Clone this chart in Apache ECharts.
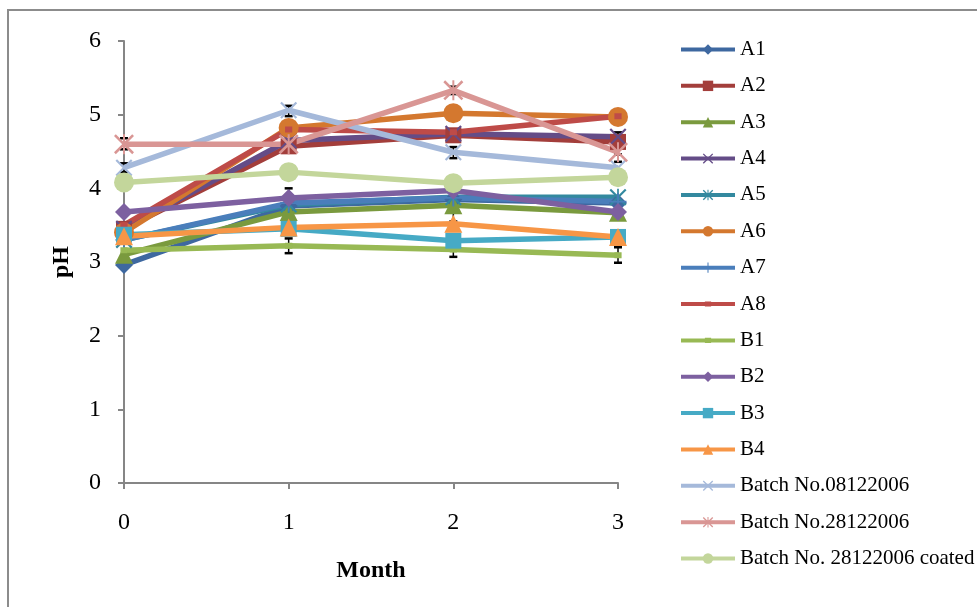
<!DOCTYPE html>
<html>
<head>
<meta charset="utf-8">
<script src="https://cdn.jsdelivr.net/npm/echarts@6/dist/echarts.min.js"></script>
<style>
html,body{margin:0;padding:0;background:#fff;}
#chart{width:977px;height:607px;}
</style>
</head>
<body>
<div id="chart"></div>
<script>
var months = [0, 1, 2, 3];
var yTicks = [0, 1, 2, 3, 4, 5, 6];
var seriesNames = ['A1','A2','A3','A4','A5','A6','A7','A8','B1','B2','B3','B4','Batch No.08122006','Batch No.28122006','Batch No. 28122006 coated'];

var A1 = [2.96, 3.76, 3.85, 3.80];
var A2 = [3.45, 4.57, 4.72, 4.63];
var A3 = [3.10, 3.68, 3.77, 3.67];
var A4 = [3.45, 4.65, 4.74, 4.70];
var A5 = [3.30, 3.78, 3.88, 3.88];
var A6 = [3.40, 4.82, 5.02, 4.97];
var A7 = [3.30, 3.80, 3.87, 3.82];
var A8 = [3.50, 4.80, 4.76, 4.98];
var B1 = [3.16, 3.22, 3.17, 3.09];
var B2 = [3.68, 3.87, 3.97, 3.68];
var B3 = [3.37, 3.45, 3.29, 3.34];
var B4 = [3.35, 3.47, 3.52, 3.34];
var Batch08 = [4.28, 5.06, 4.49, 4.28];
var Batch28 = [4.60, 4.60, 5.33, 4.49];
var Coated = [4.08, 4.22, 4.07, 4.15];

var errX    = [0,    0,    0,    1,    1,    1,    2,    2,    2,    2,    2,    3,    3,    3,    3];
var errLow  = [4.53, 4.22, 3.08, 4.98, 3.75, 3.12, 5.28, 4.41, 3.97, 3.55, 3.07, 4.62, 4.36, 3.60, 2.99];
var errHigh = [4.68, 4.34, 3.25, 5.12, 4.00, 3.32, 5.38, 4.56, 4.06, 3.80, 3.25, 4.76, 4.46, 3.75, 3.20];

var seriesValues = [A1,A2,A3,A4,A5,A6,A7,A8,B1,B2,B3,B4,Batch08,Batch28,Coated];
var colors = ['#3E68A0','#A33E3B','#7A9A3E','#644C87','#33899F','#D4782F','#4A7EBB','#BE4B48','#98B954','#7D60A0','#46AAC5','#F79646','#A5B9DA','#D99694','#C3D69B'];

var xPath = 'path://M0,1.8 L1.8,0 L20,18.2 L18.2,20 Z M18.2,0 L20,1.8 L1.8,20 L0,18.2 Z';
var starPath = 'path://M0,1.8 L1.8,0 L20,18.2 L18.2,20 Z M18.2,0 L20,1.8 L1.8,20 L0,18.2 Z M9,0 L11,0 L11,20 L9,20 Z';
var plusPath = 'path://M9,0 L11,0 L11,20 L9,20 Z M0,9 L20,9 L20,11 L0,11 Z';
var dashPath = 'path://M0,0 L0.01,0 M10,10 L10,9.99 M2,2.5 L8,2.5 L8,7.5 L2,7.5 Z';
var symbols = ['diamond','rect','triangle',xPath,starPath,'circle',plusPath,dashPath,dashPath,'diamond','rect','triangle',xPath,starPath,'circle'];
var sizes = [18,16,18,17,17,20,17,12,12,18,16,18,17,20,20];

var series = seriesNames.map(function(name, i){
  return {
    name: name,
    type: 'line',
    data: months.map(function(m, j){ return [m, seriesValues[i][j]]; }),
    symbol: symbols[i],
    symbolSize: sizes[i],
    showAllSymbol: true,
    lineStyle: {width: 5.5, color: colors[i]},
    itemStyle: {color: colors[i]},
    emphasis: {disabled: true},
    animation: false
  };
});

series.push({
  type: 'custom',
  name: 'err',
  data: errX.map(function(x, i){ return [x, errLow[i], errHigh[i]]; }),
  renderItem: function(params, api){
    var lo = api.coord([api.value(0), api.value(1)]);
    var hi = api.coord([api.value(0), api.value(2)]);
    var w = 4;
    return {
      type: 'group',
      children: [
        {type:'line', shape:{x1:lo[0],y1:lo[1],x2:hi[0],y2:hi[1]}, style:{stroke:'#000',lineWidth:1.5}},
        {type:'line', shape:{x1:lo[0]-w,y1:lo[1],x2:lo[0]+w,y2:lo[1]}, style:{stroke:'#000',lineWidth:2.5}},
        {type:'line', shape:{x1:hi[0]-w,y1:hi[1],x2:hi[0]+w,y2:hi[1]}, style:{stroke:'#000',lineWidth:2.5}}
      ]
    };
  },
  z: 1,
  animation: false
});

var chart = echarts.init(document.getElementById('chart'));
chart.setOption({
  backgroundColor: '#fff',
  animation: false,
  textStyle: {fontFamily: 'Liberation Serif'},
  graphic: [{
    type: 'rect',
    shape: {x: 8, y: 10, width: 1000, height: 620},
    style: {fill: 'none', stroke: '#8c8c8c', lineWidth: 2},
    silent: true
  }],
  grid: {left: 124, right: 359, top: 41, bottom: 124},
  xAxis: {
    type: 'value',
    min: 0, max: 3, interval: 1,
    name: 'Month',
    nameLocation: 'middle',
    nameGap: 76,
    nameTextStyle: {fontFamily: 'Liberation Serif', fontSize: 24, fontWeight: 'bold', color: '#000'},
    axisLine: {show: true, lineStyle: {color: '#868686', width: 2}},
    axisTick: {show: true, length: 6, lineStyle: {color: '#868686', width: 2}},
    axisLabel: {fontFamily: 'Liberation Serif', fontSize: 24, color: '#000', margin: 28},
    splitLine: {show: false}
  },
  yAxis: {
    type: 'value',
    min: 0, max: 6, interval: 1,
    name: 'pH',
    nameLocation: 'middle',
    nameGap: 50,
    nameRotate: 90,
    nameTextStyle: {fontFamily: 'Liberation Serif', fontSize: 24, fontWeight: 'bold', color: '#000'},
    axisLine: {show: true, lineStyle: {color: '#868686', width: 2}},
    axisTick: {show: true, length: 6, lineStyle: {color: '#868686', width: 2}},
    axisLabel: {fontFamily: 'Liberation Serif', fontSize: 24, color: '#000', margin: 23,
      formatter: function(v){ return yTicks.indexOf(v) >= 0 ? String(v) : ''; }},
    splitLine: {show: false}
  },
  legend: {
    orient: 'vertical',
    left: 679,
    top: 39,
    padding: 0,
    data: seriesNames,
    itemWidth: 54,
    itemHeight: 13,
    itemGap: 15.36,
    lineStyle: {width: 4},
    textStyle: {fontFamily: 'Liberation Serif', fontSize: 21, lineHeight: 21, color: '#000'},
    selectedMode: false
  },
  series: series
});
</script>
</body>
</html>
